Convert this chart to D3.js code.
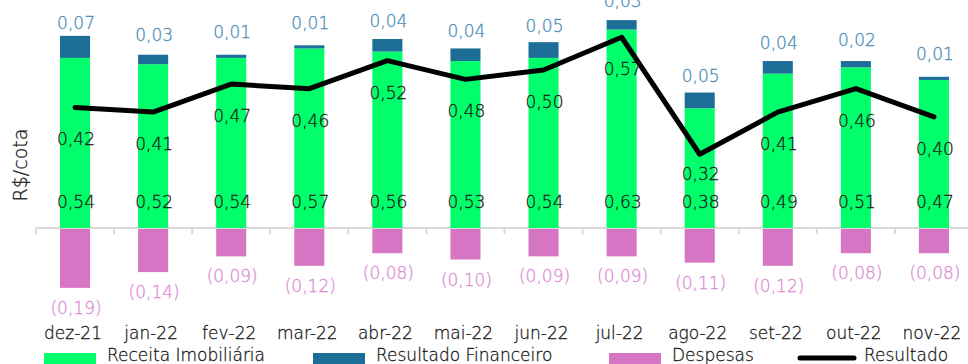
<!DOCTYPE html>
<html>
<head>
<meta charset="utf-8">
<script src="https://cdn.jsdelivr.net/npm/d3@7/dist/d3.min.js"></script>
<style>
  html, body { margin: 0; padding: 0; background: #fff; }
  svg text { font-family: "DejaVu Sans", sans-serif; font-weight: 200; stroke-width: 0.3px; }
</style>
</head>
<body>
<svg id="chart" width="968" height="364"></svg>
<script>
// Monthly results per share (R$/cota)
const months = ["dez-21","jan-22","fev-22","mar-22","abr-22","mai-22","jun-22","jul-22","ago-22","set-22","out-22","nov-22"];
const receita = [0.54,0.52,0.54,0.57,0.56,0.53,0.54,0.63,0.38,0.49,0.51,0.47];
const financeiro = [0.07,0.03,0.01,0.01,0.04,0.04,0.05,0.03,0.05,0.04,0.02,0.01];
const despesas = [-0.19,-0.14,-0.09,-0.12,-0.08,-0.10,-0.09,-0.09,-0.11,-0.12,-0.08,-0.08];
const resultado = [0.42,0.41,0.47,0.46,0.52,0.48,0.50,0.57,0.32,0.41,0.46,0.40];
const seriesNames = ["Receita Imobiliária","Resultado Financeiro","Despesas","Resultado"];

const colors = {
  receita: "#00FF6A",
  financeiro: "#1C6E96",
  despesas: "#D575C4",
  resultado: "#000000",
  finLabel: "#4A8DB8",
  despLabel: "#E08CD4",
  text: "#1A1A1A",
  axis: "#D9D9D9"
};

const fmt = v => d3.format(".2f")(Math.abs(v)).replace(".", ",");
const fmtNeg = v => "(" + fmt(v) + ")";

const svg = d3.select("#chart");

const x = d3.scaleBand().domain(months).range([36, 973]).paddingInner(0.615).paddingOuter(0.3075);
const bandStep = x.step();
const cx = m => x(m) + x.bandwidth() / 2;

// bars axis
const y = d3.scaleLinear().domain([-0.3, 0.7]).range([322.5, 7.5]);
// secondary axis for the result line
const y2 = d3.scaleLinear().domain([0, 0.6]).range([304, 23.2]);

const data = months.map((m, i) => ({
  m, rec: receita[i], fin: financeiro[i], desp: despesas[i], res: resultado[i]
}));

// axis line with ticks between categories
const axisG = svg.append("g").attr("transform", `translate(0,${y(0)})`);
axisG.append("line").attr("x1", 36).attr("x2", 973).attr("y1", 0).attr("y2", 0)
  .attr("stroke", colors.axis).attr("stroke-width", 2);
axisG.selectAll("line.tick").data(d3.range(months.length + 1)).join("line")
  .attr("class", "tick")
  .attr("x1", i => 36 + i * bandStep).attr("x2", i => 36 + i * bandStep)
  .attr("y1", 0).attr("y2", 6)
  .attr("stroke", colors.axis).attr("stroke-width", 2);

// bars
const bars = svg.append("g");
bars.selectAll("rect.rec").data(data).join("rect")
  .attr("x", d => x(d.m)).attr("width", x.bandwidth())
  .attr("y", d => y(d.rec)).attr("height", d => y(0) - y(d.rec))
  .attr("fill", colors.receita);
bars.selectAll("rect.fin").data(data).join("rect")
  .attr("x", d => x(d.m)).attr("width", x.bandwidth())
  .attr("y", d => y(d.rec + d.fin)).attr("height", d => y(d.rec) - y(d.rec + d.fin))
  .attr("fill", colors.financeiro);
bars.selectAll("rect.desp").data(data).join("rect")
  .attr("x", d => x(d.m)).attr("width", x.bandwidth())
  .attr("y", y(0) + 1).attr("height", d => y(d.desp) - y(0) - 1)
  .attr("fill", colors.despesas);

// result line
const line = d3.line().x(d => cx(d.m)).y(d => y2(d.res));
svg.append("path").datum(data).attr("d", line)
  .attr("fill", "none").attr("stroke", colors.resultado)
  .attr("stroke-width", 5).attr("stroke-linejoin", "round").attr("stroke-linecap", "round");

// labels
const labels = svg.append("g").attr("font-size", 17).attr("text-anchor", "middle")
  .attr("dominant-baseline", "central");
const recLabelY = y(0) - 26;
labels.selectAll("text.rec").data(data).join("text")
  .attr("x", d => cx(d.m) + 1).attr("y", recLabelY)
  .attr("fill", colors.text).attr("stroke", colors.text).text(d => fmt(d.rec));
labels.selectAll("text.res").data(data).join("text")
  .attr("x", d => cx(d.m) + 1)
  .attr("y", d => Math.min(y2(d.res) + 32, recLabelY - 28))
  .attr("fill", colors.text).attr("stroke", colors.text).text(d => fmt(d.res));
labels.selectAll("text.fin").data(data).join("text")
  .attr("x", d => cx(d.m) + 1)
  .attr("y", d => (y(d.rec) + y(d.rec + d.fin)) / 2 - 24)
  .attr("fill", colors.finLabel).attr("stroke", colors.finLabel).text(d => fmt(d.fin));
labels.selectAll("text.desp").data(data).join("text")
  .attr("x", d => cx(d.m) + 1)
  .attr("y", d => y(d.desp) + 20)
  .attr("fill", colors.despLabel).attr("stroke", colors.despLabel).text(d => fmtNeg(d.desp));

// category labels
svg.append("g").selectAll("text").data(months).join("text")
  .attr("x", m => cx(m) - 2).attr("y", 333)
  .attr("text-anchor", "middle").attr("dominant-baseline", "central")
  .attr("font-size", 17).attr("fill", colors.text).attr("stroke", colors.text).text(m => m);

// axis title
svg.append("text").attr("transform", "translate(20,165) rotate(-90)")
  .attr("text-anchor", "middle").attr("dominant-baseline", "central")
  .attr("font-size", 19).attr("fill", colors.text).attr("stroke", colors.text).text("R$/cota");

// legend
const legend = svg.append("g");
const legendItems = [
  { name: seriesNames[0], color: colors.receita, type: "rect", x: 44 },
  { name: seriesNames[1], color: colors.financeiro, type: "rect", x: 313 },
  { name: seriesNames[2], color: colors.despesas, type: "rect", x: 609 },
  { name: seriesNames[3], color: colors.resultado, type: "line", x: 800 }
];
legendItems.forEach(it => {
  if (it.type === "rect") {
    legend.append("rect").attr("x", it.x).attr("y", 353).attr("width", 52).attr("height", 14).attr("fill", it.color);
  } else {
    legend.append("line").attr("x1", it.x).attr("x2", it.x + 54).attr("y1", 358).attr("y2", 358)
      .attr("stroke", it.color).attr("stroke-width", 5).attr("stroke-linecap", "round");
  }
  legend.append("text").attr("x", it.x + (it.type === "rect" ? 63 : 64)).attr("y", 361)
    .attr("font-size", 17).attr("fill", colors.text).attr("stroke", colors.text).text(it.name);
});
</script>
</body>
</html>
